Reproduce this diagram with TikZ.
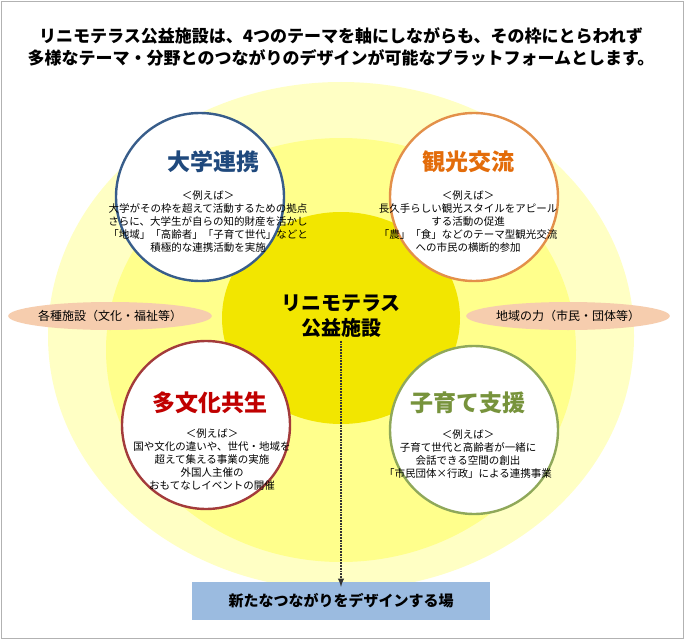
\documentclass[tikz,border=0pt]{standalone}
\usepackage{fontspec}
\usetikzlibrary{shapes.geometric}
\setmainfont{Noto Sans CJK JP}
\definecolor{cblue}{HTML}{385D8A}
\definecolor{corange}{HTML}{E3904A}
\definecolor{cred}{HTML}{A33B3B}
\definecolor{cgreen}{HTML}{8FA85A}
\definecolor{tblue}{HTML}{1F497D}
\definecolor{torange}{HTML}{E36C0A}
\definecolor{tred}{HTML}{C00000}
\definecolor{tgreen}{HTML}{77933C}
\definecolor{ylo}{HTML}{FFFFC4}
\definecolor{ymid}{HTML}{FFFF8C}
\definecolor{yin}{HTML}{F2E600}
\definecolor{pillc}{HTML}{F6CDAE}
\definecolor{botc}{HTML}{9BBBE0}
\begin{document}
\begin{tikzpicture}[x=1pt,y=-1pt,
  theme/.style={circle,draw,line width=2.4pt,fill=white,minimum size=168pt,inner sep=0pt},
  ttl/.style={font=\fontsize{23}{26}\selectfont\bfseries},
  body/.style={font=\fontsize{10.5}{13}\selectfont,align=center},
  pill/.style={ellipse,fill=pillc,minimum width=175pt,minimum height=28pt,inner sep=0pt,font=\fontsize{12}{14}\selectfont}]
\useasboundingbox (0,0) rectangle (684,639);
\fill[white] (0,0) rectangle (684,639);
\draw[gray!60] (1,1) rectangle (683,638);
\fill[ylo] (341,336) ellipse (293 and 254);
\fill[ymid] (341,350) ellipse (235 and 212);
\fill[yin] (341,318) ellipse (119 and 106);
\node[font=\fontsize{17}{22}\selectfont\bfseries,align=center] (head) at (341,47) {リニモテラス公益施設は、4つのテーマを軸にしながらも、その枠にとらわれず\\多様なテーマ・分野とのつながりのデザインが可能なプラットフォームとします。};
\node[pill] (pl) at (110,316) {各種施設（文化・福祉等）};
\node[pill] (pr) at (568,316) {地域の力（市民・団体等）};
\node[theme,draw=cblue] (c1) at (200,197) {};
\node[theme,draw=corange] (c2) at (474,197) {};
\node[theme,draw=cred] (c3) at (206,425) {};
\node[theme,draw=cgreen] (c4) at (474,430) {};
\node[ttl,text=tblue] (t1) at (213,162) {大学連携};
\node[ttl,text=torange] (t2) at (468,162) {観光交流};
\node[ttl,text=tred] (t3) at (210,403) {多文化共生};
\node[ttl,text=tgreen] (t4) at (468,403) {子育て支援};
\node[body] (b1) at (208,222) {＜例えば＞\\大学がその枠を超えて活動するための拠点\\さらに、大学生が自らの知的財産を活かし\\「地域」「高齢者」「子育て世代」などと\\積極的な連携活動を実施};
\node[body] (b2) at (468,222) {＜例えば＞\\長久手らしい観光スタイルをアピール\\する活動の促進\\「農」「食」などのテーマ型観光交流\\への市民の横断的参加};
\node[body] (b3) at (212,460) {＜例えば＞\\国や文化の違いや、世代・地域を\\超えて集える事業の実施\\外国人主催の\\おもてなしイベントの開催};
\node[body] (b4) at (468,454) {＜例えば＞\\子育て世代と高齢者が一緒に\\会話できる空間の創出\\「市民団体×行政」による連携事業};
\node[font=\fontsize{20}{25}\selectfont\bfseries,align=center] (ctr) at (341,316) {リニモテラス\\公益施設};
\node[fill=botc,minimum width=298pt,minimum height=38pt,font=\fontsize{15}{18}\selectfont\bfseries] (bot) at (341,601) {新たなつながりをデザインする場};
\draw[densely dotted,line width=1.8pt,gray!40!black,-latex] (ctr.south) -- ([yshift=-5pt]bot.north);
\end{tikzpicture}
\end{document}
